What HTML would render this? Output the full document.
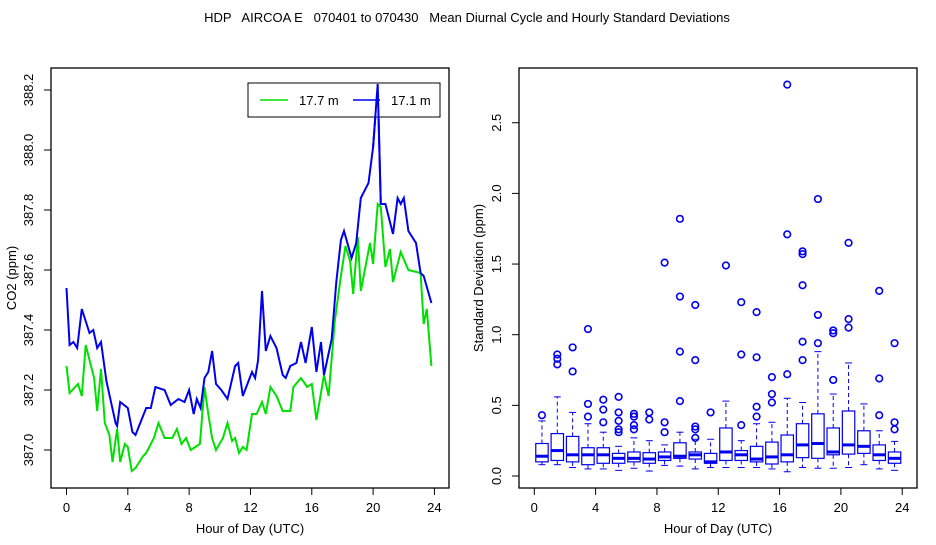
<!DOCTYPE html>
<html><head><meta charset="utf-8"><style>
body{margin:0;background:#fff;}
svg text{font-family:"Liberation Sans",sans-serif;white-space:pre;}
</style></head><body>
<svg id="chart" width="936" height="540" xmlns="http://www.w3.org/2000/svg">
<rect width="936" height="540" fill="#fff"/>
<text x="467" y="22" font-size="13" text-anchor="middle" xml:space="preserve">HDP   AIRCOA E   070401 to 070430   Mean Diurnal Cycle and Hourly Standard Deviations</text>
<g id="left"></g>
<g id="right"></g>
</svg>
<script>
// Left panel data
const blueHours=[0,0.2,0.45,0.7,1.0,1.5,1.75,2.0,2.25,2.6,3.2,3.3,3.5,4.0,4.3,4.5,5.2,5.5,5.8,6.4,6.8,7.3,7.7,8.0,8.3,8.5,8.75,9.0,9.25,9.5,9.75,10.1,10.5,11.0,11.2,11.5,12.1,12.3,12.5,12.75,13.0,13.3,13.7,14.1,14.3,14.6,15.0,15.3,15.6,16.0,16.3,16.6,16.8,17.3,17.6,17.9,18.1,18.6,18.9,19.2,19.7,20.0,20.3,20.5,20.8,21.3,21.6,21.8,22.0,22.3,22.8,23.1,23.3,23.8];
const blueVals=[387.54,387.35,387.36,387.34,387.47,387.39,387.40,387.34,387.36,387.23,387.09,387.08,387.16,387.14,387.06,387.05,387.14,387.14,387.21,387.20,387.15,387.17,387.16,387.20,387.12,387.17,387.14,387.24,387.26,387.33,387.22,387.20,387.17,387.28,387.29,387.18,387.26,387.24,387.30,387.53,387.33,387.38,387.34,387.25,387.24,387.28,387.29,387.36,387.29,387.41,387.26,387.36,387.25,387.37,387.56,387.70,387.73,387.64,387.69,387.84,387.89,388.01,388.22,387.82,387.82,387.72,387.84,387.82,387.84,387.73,387.69,387.59,387.58,387.49];
const greenHours=[0,0.2,0.75,1.0,1.25,1.5,1.8,2.0,2.25,2.5,2.8,3.0,3.3,3.5,3.8,4.0,4.25,4.5,5.0,5.2,5.7,6.0,6.4,6.9,7.2,7.5,7.8,8.1,8.7,9.0,9.25,9.5,9.75,10.2,10.5,10.8,11.0,11.25,11.5,11.75,12.1,12.4,12.75,13.0,13.3,13.7,14.1,14.6,14.8,15.3,15.7,16.0,16.3,16.8,17.1,17.5,17.9,18.2,18.5,18.7,19.0,19.2,19.8,20.0,20.3,20.5,20.8,21.1,21.3,21.8,22.3,23.1,23.3,23.5,23.8];
const greenVals=[387.28,387.19,387.22,387.18,387.35,387.30,387.24,387.13,387.27,387.09,387.05,386.96,387.07,386.96,387.02,387.01,386.93,386.94,386.98,386.99,387.04,387.09,387.04,387.04,387.07,387.02,387.04,387.00,387.02,387.21,387.12,387.04,387.00,387.04,387.09,387.03,387.04,386.99,387.01,387.00,387.12,387.12,387.16,387.12,387.21,387.18,387.13,387.13,387.21,387.24,387.21,387.22,387.10,387.25,387.18,387.43,387.58,387.68,387.63,387.52,387.71,387.53,387.69,387.62,387.82,387.81,387.61,387.67,387.56,387.66,387.60,387.59,387.42,387.47,387.28];
const leftYTicks=[387.0,387.2,387.4,387.6,387.8,388.0,388.2];
const xTicks=[0,4,8,12,16,20,24];
// Right panel data (per hour)
const boxHours=[0,1,2,3,4,5,6,7,8,9,10,11,12,13,14,15,16,17,18,19,20,21,22,23];
const whiskerLo=[0.08,0.08,0.06,0.05,0.05,0.04,0.055,0.035,0.075,0.07,0.05,0.06,0.06,0.06,0.06,0.05,0.03,0.06,0.055,0.055,0.06,0.08,0.05,0.04];
const q1=[0.10,0.11,0.10,0.08,0.09,0.09,0.10,0.09,0.11,0.125,0.12,0.09,0.11,0.11,0.10,0.085,0.10,0.13,0.125,0.15,0.155,0.16,0.11,0.09];
const medians=[0.14,0.18,0.15,0.15,0.15,0.125,0.125,0.12,0.135,0.14,0.15,0.10,0.17,0.15,0.12,0.135,0.15,0.22,0.23,0.17,0.22,0.21,0.15,0.125];
const q3=[0.23,0.30,0.28,0.20,0.20,0.16,0.17,0.165,0.17,0.235,0.17,0.16,0.34,0.18,0.21,0.24,0.29,0.37,0.44,0.34,0.46,0.32,0.22,0.17];
const whiskerHi=[0.39,0.56,0.45,0.37,0.31,0.21,0.27,0.25,0.22,0.31,0.26,0.26,0.53,0.25,0.37,0.38,0.55,0.52,0.88,0.58,0.80,0.51,0.32,0.245];
const outliers=[[0.43],[0.86,0.83,0.79],[0.91,0.74],[1.04,0.51,0.42],[0.54,0.47,0.38],[0.56,0.45,0.39,0.33,0.31],[0.44,0.42,0.36,0.33],[0.45,0.40],[1.51,0.38,0.31],[1.82,1.27,0.88,0.53],[1.21,0.82,0.35,0.33,0.27],[0.45],[1.49],[1.23,0.86,0.36],[1.16,0.84,0.49,0.42],[0.70,0.58,0.52],[2.77,1.71,0.72],[1.59,1.57,1.35,0.95,0.82],[1.96,1.14,0.94],[1.03,1.01,0.68],[1.65,1.11,1.05],[],[1.31,0.69,0.43],[0.94,0.38,0.33]];
const rightYTicks=[0,0.5,1.0,1.5,2.0,2.5];

const NS="http://www.w3.org/2000/svg";
function mk(parent,tag,attrs,text){const e=document.createElementNS(NS,tag);for(const k in attrs)e.setAttribute(k,attrs[k]);if(text!==undefined)e.textContent=text;parent.appendChild(e);return e;}

// left axes
const L=document.getElementById('left');
const lx=h=>66.5+h*15.33;
const ly=v=>450-(v-387)*300;
let e=mk(L,'rect',{x:51,y:68,width:398,height:420,fill:'none',stroke:'#000','stroke-width':1.3});


leftYTicks.forEach(v=>{
  const y=ly(v);
  mk(L,'line',{x1:44,x2:51,y1:y,y2:y,stroke:'#000'});
  const t=mk(L,'text',{x:0,y:0,'font-size':13,'text-anchor':'middle',transform:`translate(33,${y}) rotate(-90)`},v.toFixed(1));
  
  
});
xTicks.forEach(h=>{
  const x=lx(h);
  mk(L,'line',{x1:x,x2:x,y1:488,y2:495,stroke:'#000'});
  const t=mk(L,'text',{x:x,y:512,'font-size':13,'text-anchor':'middle'},String(h));
  
  
});
e=mk(L,'text',{x:0,y:0,'font-size':13,'text-anchor':'middle',transform:'translate(16,278) rotate(-90)'},'CO2 (ppm)');


e=mk(L,'text',{x:250,y:533,'font-size':13,'text-anchor':'middle'},'Hour of Day (UTC)');


function series(hs,vs,col,name){
  const p=hs.map((h,i)=>`${i?'L':'M'}${lx(h).toFixed(1)},${ly(vs[i]).toFixed(1)}`).join('');
  const s=mk(L,'path',{d:p,fill:'none',stroke:col,'stroke-width':2});
  
  
}
series(greenHours,greenVals,'#00e000','series-17-7m');
series(blueHours,blueVals,'#0000ee','series-17-1m');
// legend
const lg=mk(L,'g',{});


mk(lg,'rect',{x:248,y:83,width:192,height:34,fill:'#fff',stroke:'#000'});
mk(lg,'line',{x1:260,x2:288,y1:100,y2:100,stroke:'#00e000','stroke-width':1.5});
e=mk(lg,'text',{x:299,y:105,'font-size':13},'17.7 m');


mk(lg,'line',{x1:353,x2:380,y1:100,y2:100,stroke:'#0000ee','stroke-width':1.5});
e=mk(lg,'text',{x:391,y:105,'font-size':13},'17.1 m');


// redraw blue peak over legend (as in reference)
const pk=blueVals.indexOf(Math.max(...blueVals));
mk(L,'path',{d:`M${lx(blueHours[pk-1])},${ly(blueVals[pk-1])}L${lx(blueHours[pk])},${ly(blueVals[pk])}L${lx(blueHours[pk+1])},${ly(blueVals[pk+1])}`,fill:'none',stroke:'#0000ee','stroke-width':2});

// right axes
const R=document.getElementById('right');
const rx=h=>534.3+h*15.33;
const ry=v=>476-v*141.3;
e=mk(R,'rect',{x:519,y:68,width:398,height:420,fill:'none',stroke:'#000','stroke-width':1.3});


rightYTicks.forEach(v=>{
  const y=ry(v);
  mk(R,'line',{x1:512,x2:519,y1:y,y2:y,stroke:'#000'});
  const t=mk(R,'text',{x:0,y:0,'font-size':13,'text-anchor':'middle',transform:`translate(501,${y}) rotate(-90)`},v.toFixed(1));
  
  
});
xTicks.forEach(h=>{
  const x=rx(h);
  mk(R,'line',{x1:x,x2:x,y1:488,y2:495,stroke:'#000'});
  const t=mk(R,'text',{x:x,y:512,'font-size':13,'text-anchor':'middle'},String(h));
  
  
});
e=mk(R,'text',{x:0,y:0,'font-size':13,'text-anchor':'middle',transform:'translate(483,278) rotate(-90)'},'Standard Deviation (ppm)');


e=mk(R,'text',{x:718,y:533,'font-size':13,'text-anchor':'middle'},'Hour of Day (UTC)');


const B='#0000ee';
boxHours.forEach((h,i)=>{
  const g=mk(R,'g',{});
  
  
  const cx=rx(h+0.5), hw=6.2;
  mk(g,'line',{x1:cx,x2:cx,y1:ry(q3[i]),y2:ry(whiskerHi[i]),stroke:B,'stroke-dasharray':'4,3'});
  mk(g,'line',{x1:cx,x2:cx,y1:ry(q1[i]),y2:ry(whiskerLo[i]),stroke:B,'stroke-dasharray':'4,3'});
  mk(g,'line',{x1:cx-3.5,x2:cx+3.5,y1:ry(whiskerHi[i]),y2:ry(whiskerHi[i]),stroke:B});
  mk(g,'line',{x1:cx-3.5,x2:cx+3.5,y1:ry(whiskerLo[i]),y2:ry(whiskerLo[i]),stroke:B});
  mk(g,'rect',{x:cx-hw,y:ry(q3[i]),width:hw*2,height:ry(q1[i])-ry(q3[i]),fill:'#fff',stroke:B,'stroke-width':1.2});
  mk(g,'line',{x1:cx-hw,x2:cx+hw,y1:ry(medians[i]),y2:ry(medians[i]),stroke:B,'stroke-width':3});
  outliers[i].forEach(o=>{
    const c=mk(g,'circle',{cx:cx,cy:ry(o),r:3.3,fill:'none',stroke:B,'stroke-width':1.6});
    
    
  });
});
</script>
</body></html>
